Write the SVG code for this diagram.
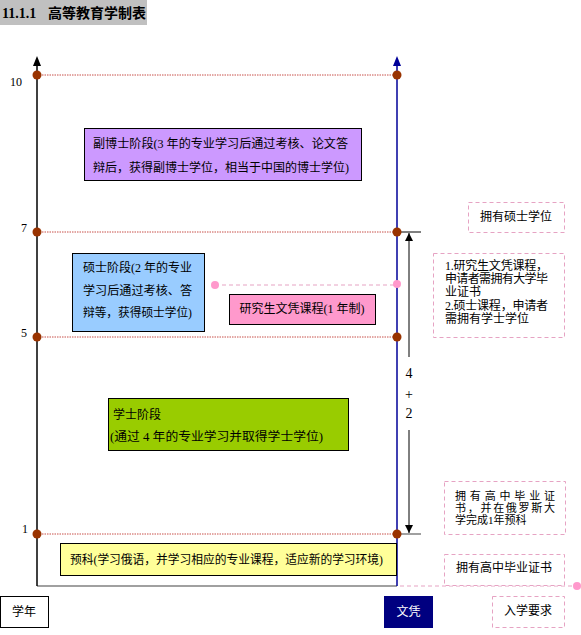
<svg xmlns="http://www.w3.org/2000/svg" width="581" height="635" viewBox="0 0 581 635">
<defs>
<style>
text{font-family:"Liberation Serif","Noto Sans CJK SC",serif;font-size:12px;fill:#000}
.lbl{font-size:12px}
.sm{font-size:11px}
.box{stroke:#000;stroke-width:1}
.dbox{fill:#fff;stroke:#e6a3c3;stroke-width:1;stroke-dasharray:4 3}
.grid{stroke:#c8504a;stroke-width:1;stroke-dasharray:1.5 1}
.pk{stroke:#e6a3c3;stroke-width:1;stroke-dasharray:4 3}
.dot{fill:#993300}
.pdot{fill:#ff99cc}
</style>
<marker id="ah" viewBox="0 0 8 10" refX="8" refY="5" markerWidth="8" markerHeight="10" markerUnits="userSpaceOnUse" orient="auto"><path d="M0,1 L8,5 L0,9 z" fill="#000"/></marker>
</defs>
<rect width="581" height="635" fill="#fff"/>
<g id="title">
<rect x="0" y="0" width="147" height="25" fill="#c0c0c0"/>
<text x="2" y="18" style="font-size:14px;font-weight:bold">11.1.1</text>
<text x="48" y="18" style="font-size:14px;font-weight:bold">高等教育学制表</text>
</g>
<g id="connectors">
<line class="grid" x1="37" y1="75" x2="397" y2="75"/>
<line class="grid" x1="37" y1="232" x2="397" y2="232"/>
<line class="grid" x1="37" y1="337" x2="397" y2="337"/>
<line class="grid" x1="37" y1="534" x2="397" y2="534"/>
<line x1="37" y1="586" x2="397" y2="586" stroke="#808080" stroke-width="1.5"/>
<line x1="37" y1="586" x2="37" y2="64" stroke="#000" stroke-width="1.5"/>
<polygon points="37,56 33,66 41,66" fill="#000"/>
<line x1="397" y1="586" x2="397" y2="64" stroke="#000099" stroke-width="1.5"/>
<polygon points="397,56 393,66 401,66" fill="#000099"/>
<line class="pk" x1="215" y1="285" x2="397" y2="285"/>
<line class="pk" x1="400" y1="586" x2="577" y2="586"/>
<line x1="397" y1="232" x2="421" y2="232" stroke="#000" stroke-width="1"/>
<line x1="397" y1="534" x2="421" y2="534" stroke="#808080" stroke-width="1.5"/>
<line x1="409" y1="357" x2="409" y2="233" stroke="#000" stroke-width="1" marker-end="url(#ah)"/>
<line x1="409" y1="430" x2="409" y2="533" stroke="#000" stroke-width="1" marker-end="url(#ah)"/>
<text x="409" y="378" text-anchor="middle" style="font-size:14px">4</text>
<text x="409" y="399" text-anchor="middle" style="font-size:14px">+</text>
<text x="409" y="418" text-anchor="middle" style="font-size:14px">2</text>
<circle class="dot" cx="37" cy="75" r="4.5"/>
<circle class="dot" cx="397" cy="75" r="4.5"/>
<circle class="dot" cx="37" cy="232" r="4.5"/>
<circle class="dot" cx="397" cy="232" r="4.5"/>
<circle class="dot" cx="37" cy="337" r="4.5"/>
<circle class="dot" cx="397" cy="337" r="4.5"/>
<circle class="dot" cx="37" cy="534" r="4.5"/>
<circle class="dot" cx="397" cy="534" r="4.5"/>
<circle class="pdot" cx="215" cy="285" r="4"/>
<circle class="pdot" cx="397" cy="284" r="4"/>
<circle class="pdot" cx="577" cy="586" r="4"/>
</g>
<g id="ylabels">
<text class="lbl" x="10" y="86">10</text>
<text class="lbl" x="21" y="232">7</text>
<text class="lbl" x="21" y="337">5</text>
<text class="lbl" x="22" y="533">1</text>
</g>
<g id="fuboshi">
<rect class="box" x="84.5" y="128.5" width="277" height="52" fill="#cc99ff"/>
<text x="93" y="148" textLength="255" lengthAdjust="spacingAndGlyphs">副博士阶段(3 年的专业学习后通过考核、论文答</text>
<text x="93" y="172" textLength="256" lengthAdjust="spacingAndGlyphs">辩后，获得副博士学位，相当于中国的博士学位)</text>
</g>
<g id="shuoshi">
<rect class="box" x="72.5" y="253.5" width="132" height="78" fill="#99ccff"/>
<text x="83" y="272">硕士阶段(2 年的专业</text>
<text x="83" y="295" textLength="109" lengthAdjust="spacingAndGlyphs">学习后通过考核、答</text>
<text x="83" y="317" textLength="109" lengthAdjust="spacingAndGlyphs">辩等，获得硕士学位)</text>
</g>
<g id="yanjiusheng">
<rect class="box" x="229.5" y="294.5" width="146" height="30" fill="#ff99cc"/>
<text x="302" y="313" text-anchor="middle">研究生文凭课程(1 年制)</text>
</g>
<g id="xueshi">
<rect class="box" x="108.5" y="398.5" width="240" height="52" fill="#99cc00"/>
<text x="113" y="419">学士阶段</text>
<text x="110" y="441" textLength="213" lengthAdjust="spacingAndGlyphs">(通过 4 年的专业学习并取得学士学位)</text>
</g>
<g id="yuke">
<rect class="box" x="60.5" y="543.5" width="336" height="32" fill="#ffff99"/>
<text x="70" y="564" textLength="313" lengthAdjust="spacingAndGlyphs">预科(学习俄语，并学习相应的专业课程，适应新的学习环境)</text>
</g>
<g id="xuenian">
<rect class="box" x="0.5" y="596.5" width="48" height="31" fill="#fff"/>
<text x="24" y="616" text-anchor="middle">学年</text>
</g>
<g id="wenping">
<rect x="384" y="596" width="49" height="32" fill="#000080"/>
<text x="408.5" y="616" text-anchor="middle" style="fill:#fff">文凭</text>
</g>
<g id="ruxue">
<rect class="dbox" x="492.5" y="596.5" width="72" height="31"/>
<text x="528" y="615" text-anchor="middle">入学要求</text>
</g>
<g id="gaozhong">
<rect class="dbox" x="444.5" y="554.5" width="120" height="31"/>
<text x="504" y="572" text-anchor="middle">拥有高中毕业证书</text>
</g>
<g id="gaozhong-yuke">
<rect class="dbox" x="444.5" y="481.5" width="121" height="53"/>
<text class="sm" x="455" y="500" textLength="100" lengthAdjust="spacing">拥有高中毕业证</text>
<text class="sm" x="455" y="512" textLength="100" lengthAdjust="spacing">书，并在俄罗斯大</text>
<text class="sm" x="455" y="524">学完成1年预科</text>
</g>
<g id="shuoshi-req">
<rect class="dbox" x="468.5" y="202.5" width="96" height="30"/>
<text x="516" y="221" text-anchor="middle">拥有硕士学位</text>
</g>
<g id="yanjiusheng-req">
<rect class="dbox" x="433.5" y="253.5" width="131" height="84"/>
<text x="445" y="270" textLength="103" lengthAdjust="spacing">1.研究生文凭课程，</text>
<text x="445" y="283" textLength="103" lengthAdjust="spacing">申请者需拥有大学毕</text>
<text x="445" y="296">业证书</text>
<text x="445" y="310" textLength="103" lengthAdjust="spacing">2.硕士课程，申请者</text>
<text x="445" y="323">需拥有学士学位</text>
</g>
</svg>
